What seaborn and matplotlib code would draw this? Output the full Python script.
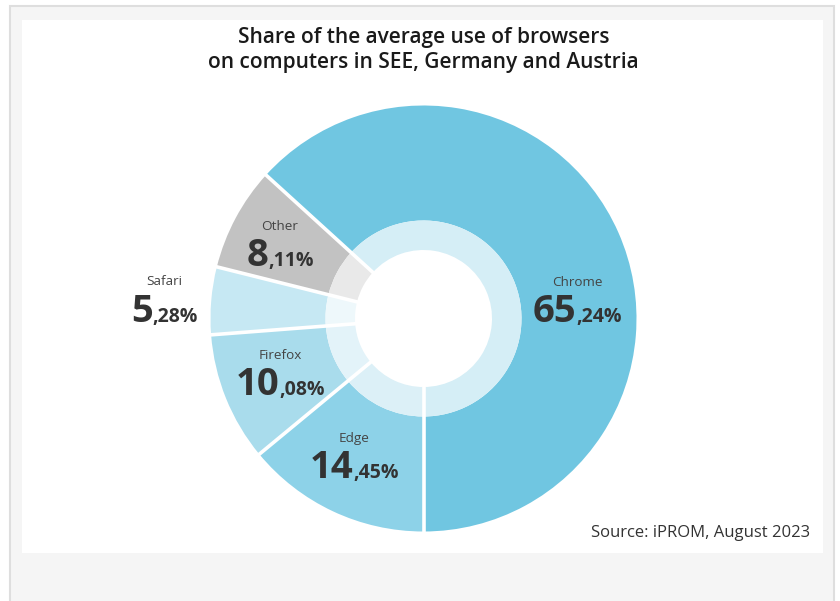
import numpy as np
import matplotlib
matplotlib.use("Agg")
import matplotlib.pyplot as plt
import seaborn as sns
from matplotlib.patches import Rectangle
from matplotlib.offsetbox import TextArea, HPacker, VPacker, AnnotationBbox

# ---- data ----
browsers = ["Chrome", "Other", "Safari", "Firefox", "Edge"]
shares = [65.24, 8.11, 5.28, 10.08, 14.45]
title = "Share of the average use of browsers\non computers in SEE, Germany and Austria"
source = "Source: iPROM, August 2023"

# ---- styles ----
main_colors = ["#70c6e1", "#c2c2c2", "#c6e8f3", "#a9dcec", "#8dd2e8"]
band_colors = ["#d5eef6", "#e9e9e9", "#eef8fb", "#e3f3f9", "#dcf0f7"]
label_radius = [0.73, 0.765, 1.22, 0.715, 0.71]
label_angle_shift = [-16, 0, 0, -2, -2]

sns.set_theme(style="white")
plt.rcParams["font.family"] = ["Open Sans", "DejaVu Sans"]

W, H = 840, 601
fig = plt.figure(figsize=(W / 100, H / 100), dpi=100)
fig.patch.set_facecolor("white")

# background frame and card (in figure pixel coordinates)
bg = fig.add_axes([0, 0, 1, 1])
bg.set_xlim(0, W)
bg.set_ylim(H, 0)
bg.axis("off")
bg.add_patch(Rectangle((9.5, 5.5), 824.5, 620, facecolor="#f5f5f5",
                       edgecolor="#dedede", linewidth=1.5))
bg.add_patch(Rectangle((22, 20), 801, 533, facecolor="white", edgecolor="none"))

# pie axes
cx, cy, R = 423.5, 318.5, 213.0
ax = fig.add_axes([(cx - R) / W, (H - cy - R) / H, 2 * R / W, 2 * R / H])
ax.set_xlim(-1, 1)
ax.set_ylim(-1, 1)
ax.axis("off")

r_hole = 68.5 / R
r_band = 98.0 / R

wedges, _ = ax.pie(shares, colors=main_colors, startangle=-90, counterclock=True,
                   radius=1.0, wedgeprops=dict(width=1.0 - r_band, edgecolor="none"))
bands, _ = ax.pie(shares, colors=band_colors, startangle=-90, counterclock=True,
                  radius=r_band, wedgeprops=dict(width=r_band - r_hole, edgecolor="none"))
ax.set_xlim(-1, 1)
ax.set_ylim(-1, 1)

# white separators
for w in wedges:
    t = np.deg2rad(w.theta1)
    ax.plot([r_hole * 0.98 * np.cos(t), 1.01 * np.cos(t)],
            [r_hole * 0.98 * np.sin(t), 1.01 * np.sin(t)],
            color="white", lw=2.6, solid_capstyle="butt", zorder=5)

# labels
for w, name, v, lr, shift in zip(wedges, browsers, shares, label_radius, label_angle_shift):
    mid = np.deg2rad((w.theta1 + w.theta2) / 2 + shift)
    x, y = lr * np.cos(mid), lr * np.sin(mid)
    ip, dp = f"{v:.2f}".split(".")
    t_name = TextArea(name, textprops=dict(fontsize=9.7, color="#444444"))
    t_int = TextArea(ip, textprops=dict(fontsize=27.5, fontweight="bold", color="#333333"))
    t_dec = TextArea("," + dp + "%", textprops=dict(fontsize=14, fontweight="bold", color="#333333"))
    num = HPacker(children=[t_int, t_dec], align="baseline", pad=0, sep=0)
    box = VPacker(children=[t_name, num], align="center", pad=0, sep=3)
    ab = AnnotationBbox(box, (x, y), xybox=(0, -4.5), boxcoords="offset points",
                        frameon=False, box_alignment=(0.5, 0.5),
                        zorder=6, annotation_clip=False)
    ax.add_artist(ab)

fig.text(cx / W, 1 - 50 / H, title, ha="center", va="center", fontsize=15,
         fontweight="semibold", color="#1a1a1a", linespacing=1.2)
fig.text(810 / W, 1 - 533 / H, source, ha="right", va="center", fontsize=12,
         color="#333333")

fig.savefig("out.png", dpi=100, facecolor="white")
